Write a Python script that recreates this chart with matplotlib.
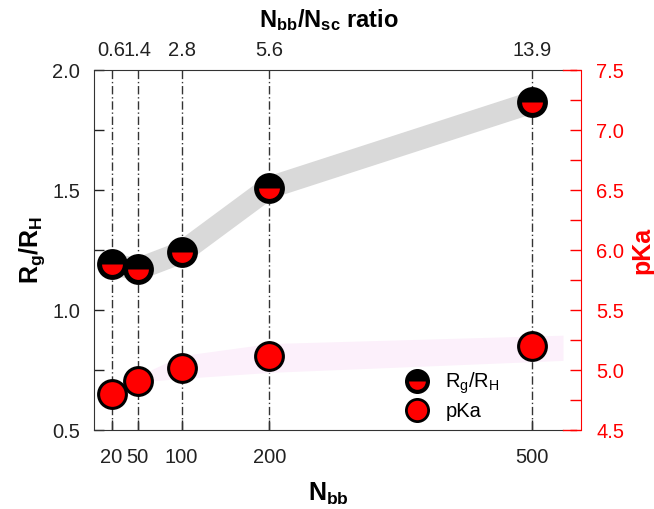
import numpy as np
import matplotlib.pyplot as plt
from matplotlib.lines import Line2D

plt.rcParams['font.family'] = ['Liberation Sans', 'DejaVu Sans']
plt.rcParams['mathtext.fontset'] = 'custom'
plt.rcParams['mathtext.rm'] = 'Liberation Sans'
plt.rcParams['mathtext.bf'] = 'Liberation Sans:bold'
plt.rcParams['mathtext.it'] = 'Liberation Sans:italic'

nbb = [20, 50, 100, 200, 500]
ratio = ['0.6', '1.4', '2.8', '5.6', '13.9']
rg_rh = [1.19, 1.17, 1.24, 1.51, 1.865]
pka = [4.80, 4.91, 5.02, 5.12, 5.20]

# faint pink band behind pKa points
band_x = [50, 100, 200, 535]
band_lo = [4.90, 4.93, 4.98, 5.08]
band_hi = [4.95, 5.12, 5.22, 5.29]

red = '#ff0000'
txt = '#222222'

fig = plt.figure(figsize=(6.54, 5.09), dpi=100)
ax = fig.add_axes([94/654, 1-430/509, (563-94)/654, 360/509])
ax2 = ax.twinx()

# gray band along Rg/RH
ax.plot(nbb, rg_rh, color='#d9d9d9', lw=16, solid_capstyle='butt',
        solid_joinstyle='round', zorder=1)

for x in nbb:
    ax.axvline(x, color='#333333', lw=1, ls=(0, (6, 2, 1, 2)), zorder=2)

# Rg/RH markers: black disc with red lower half inset
ax.plot(nbb, rg_rh, ls='none', marker='o', ms=20, markerfacecolor='black',
        markeredgecolor='black', mew=2.2, zorder=5)
ax.plot(nbb, rg_rh, ls='none', marker='o', ms=15, fillstyle='bottom',
        markerfacecolor=red, markerfacecoloralt='none', mew=0, zorder=6)

ax2.fill_between(band_x, band_lo, band_hi, color='#fcf0fb', lw=0, zorder=1)
ax2.plot(nbb, pka, ls='none', marker='o', ms=20, markerfacecolor=red,
         markeredgecolor='black', mew=2.2, zorder=5)

ax.set_xlim(0, 535)
ax.set_ylim(0.5, 2.0)
ax2.set_ylim(4.5, 7.5)

ax.set_xticks(nbb)
ax.set_xticklabels(['20', '50', '100', '200', '500'])
ax.set_yticks([0.5, 1.0, 1.5, 2.0])
ax.set_yticks([0.75, 1.25, 1.75], minor=True)
ax.yaxis.set_major_formatter(plt.FormatStrFormatter('%.1f'))
ax2.set_yticks([4.5, 5.0, 5.5, 6.0, 6.5, 7.0, 7.5])
ax2.set_yticks(np.arange(4.75, 7.5, 0.5), minor=True)
ax2.yaxis.set_major_formatter(plt.FormatStrFormatter('%.1f'))

ax.tick_params(axis='y', which='both', direction='in', length=7, width=1,
               labelsize=14.5, pad=10, colors=txt)
ax.tick_params(axis='x', direction='in', length=7, width=1, labelsize=14.5,
               pad=13, colors=txt)
ax2.tick_params(axis='y', which='both', direction='in', length=8, width=1,
                labelsize=14.5, pad=11, colors=red)

for s in ['left', 'bottom', 'top']:
    ax.spines[s].set_color('#333333')
ax.spines['right'].set_visible(False)
ax2.spines['right'].set_color(red)
ax2.spines['right'].set_position(('outward', 13))
for s in ['left', 'bottom', 'top']:
    ax2.spines[s].set_visible(False)

# red connectors from black frame to offset red spine
for yy in [70, 430]:
    fig.add_artist(Line2D([563/654, 576/654], [1-yy/509, 1-yy/509],
                          color=red, lw=1, transform=fig.transFigure))

top = ax.secondary_xaxis('top')
top.set_xticks(nbb)
top.set_xticklabels(ratio)
top.tick_params(length=0, labelsize=14.5, pad=7, colors=txt)
top.spines['top'].set_visible(False)
top.set_xlabel(r'$\mathbf{N_{bb}/N_{sc}}$ ratio', fontsize=17, fontweight='bold',
               labelpad=10)

ax.set_xlabel(r'$\mathbf{N_{bb}}$', fontsize=18, labelpad=10)
ax.set_ylabel(r'$\mathbf{R_g/R_H}$', fontsize=18, labelpad=4)
ax2.set_ylabel('pKa', fontsize=18, fontweight='bold', color=red, labelpad=4)

h1a = Line2D([], [], ls='none', marker='o', ms=16, markerfacecolor='black',
             markeredgecolor='black', mew=2)
h1b = Line2D([], [], ls='none', marker='o', ms=12, fillstyle='bottom',
             markerfacecolor=red, markerfacecoloralt='none', mew=0)
h2 = Line2D([], [], ls='none', marker='o', ms=16, markerfacecolor=red,
            markeredgecolor='black', mew=2)
ax2.legend([(h1a, h1b), h2], [r'$\mathrm{R_g/R_H}$', 'pKa'], loc='lower right',
           bbox_to_anchor=(0.895, -0.015), frameon=False, fontsize=14.5,
           handlelength=1.2, handletextpad=0.8, labelspacing=0.3,
           borderaxespad=0.3)

fig.savefig('out.png', dpi=100)
